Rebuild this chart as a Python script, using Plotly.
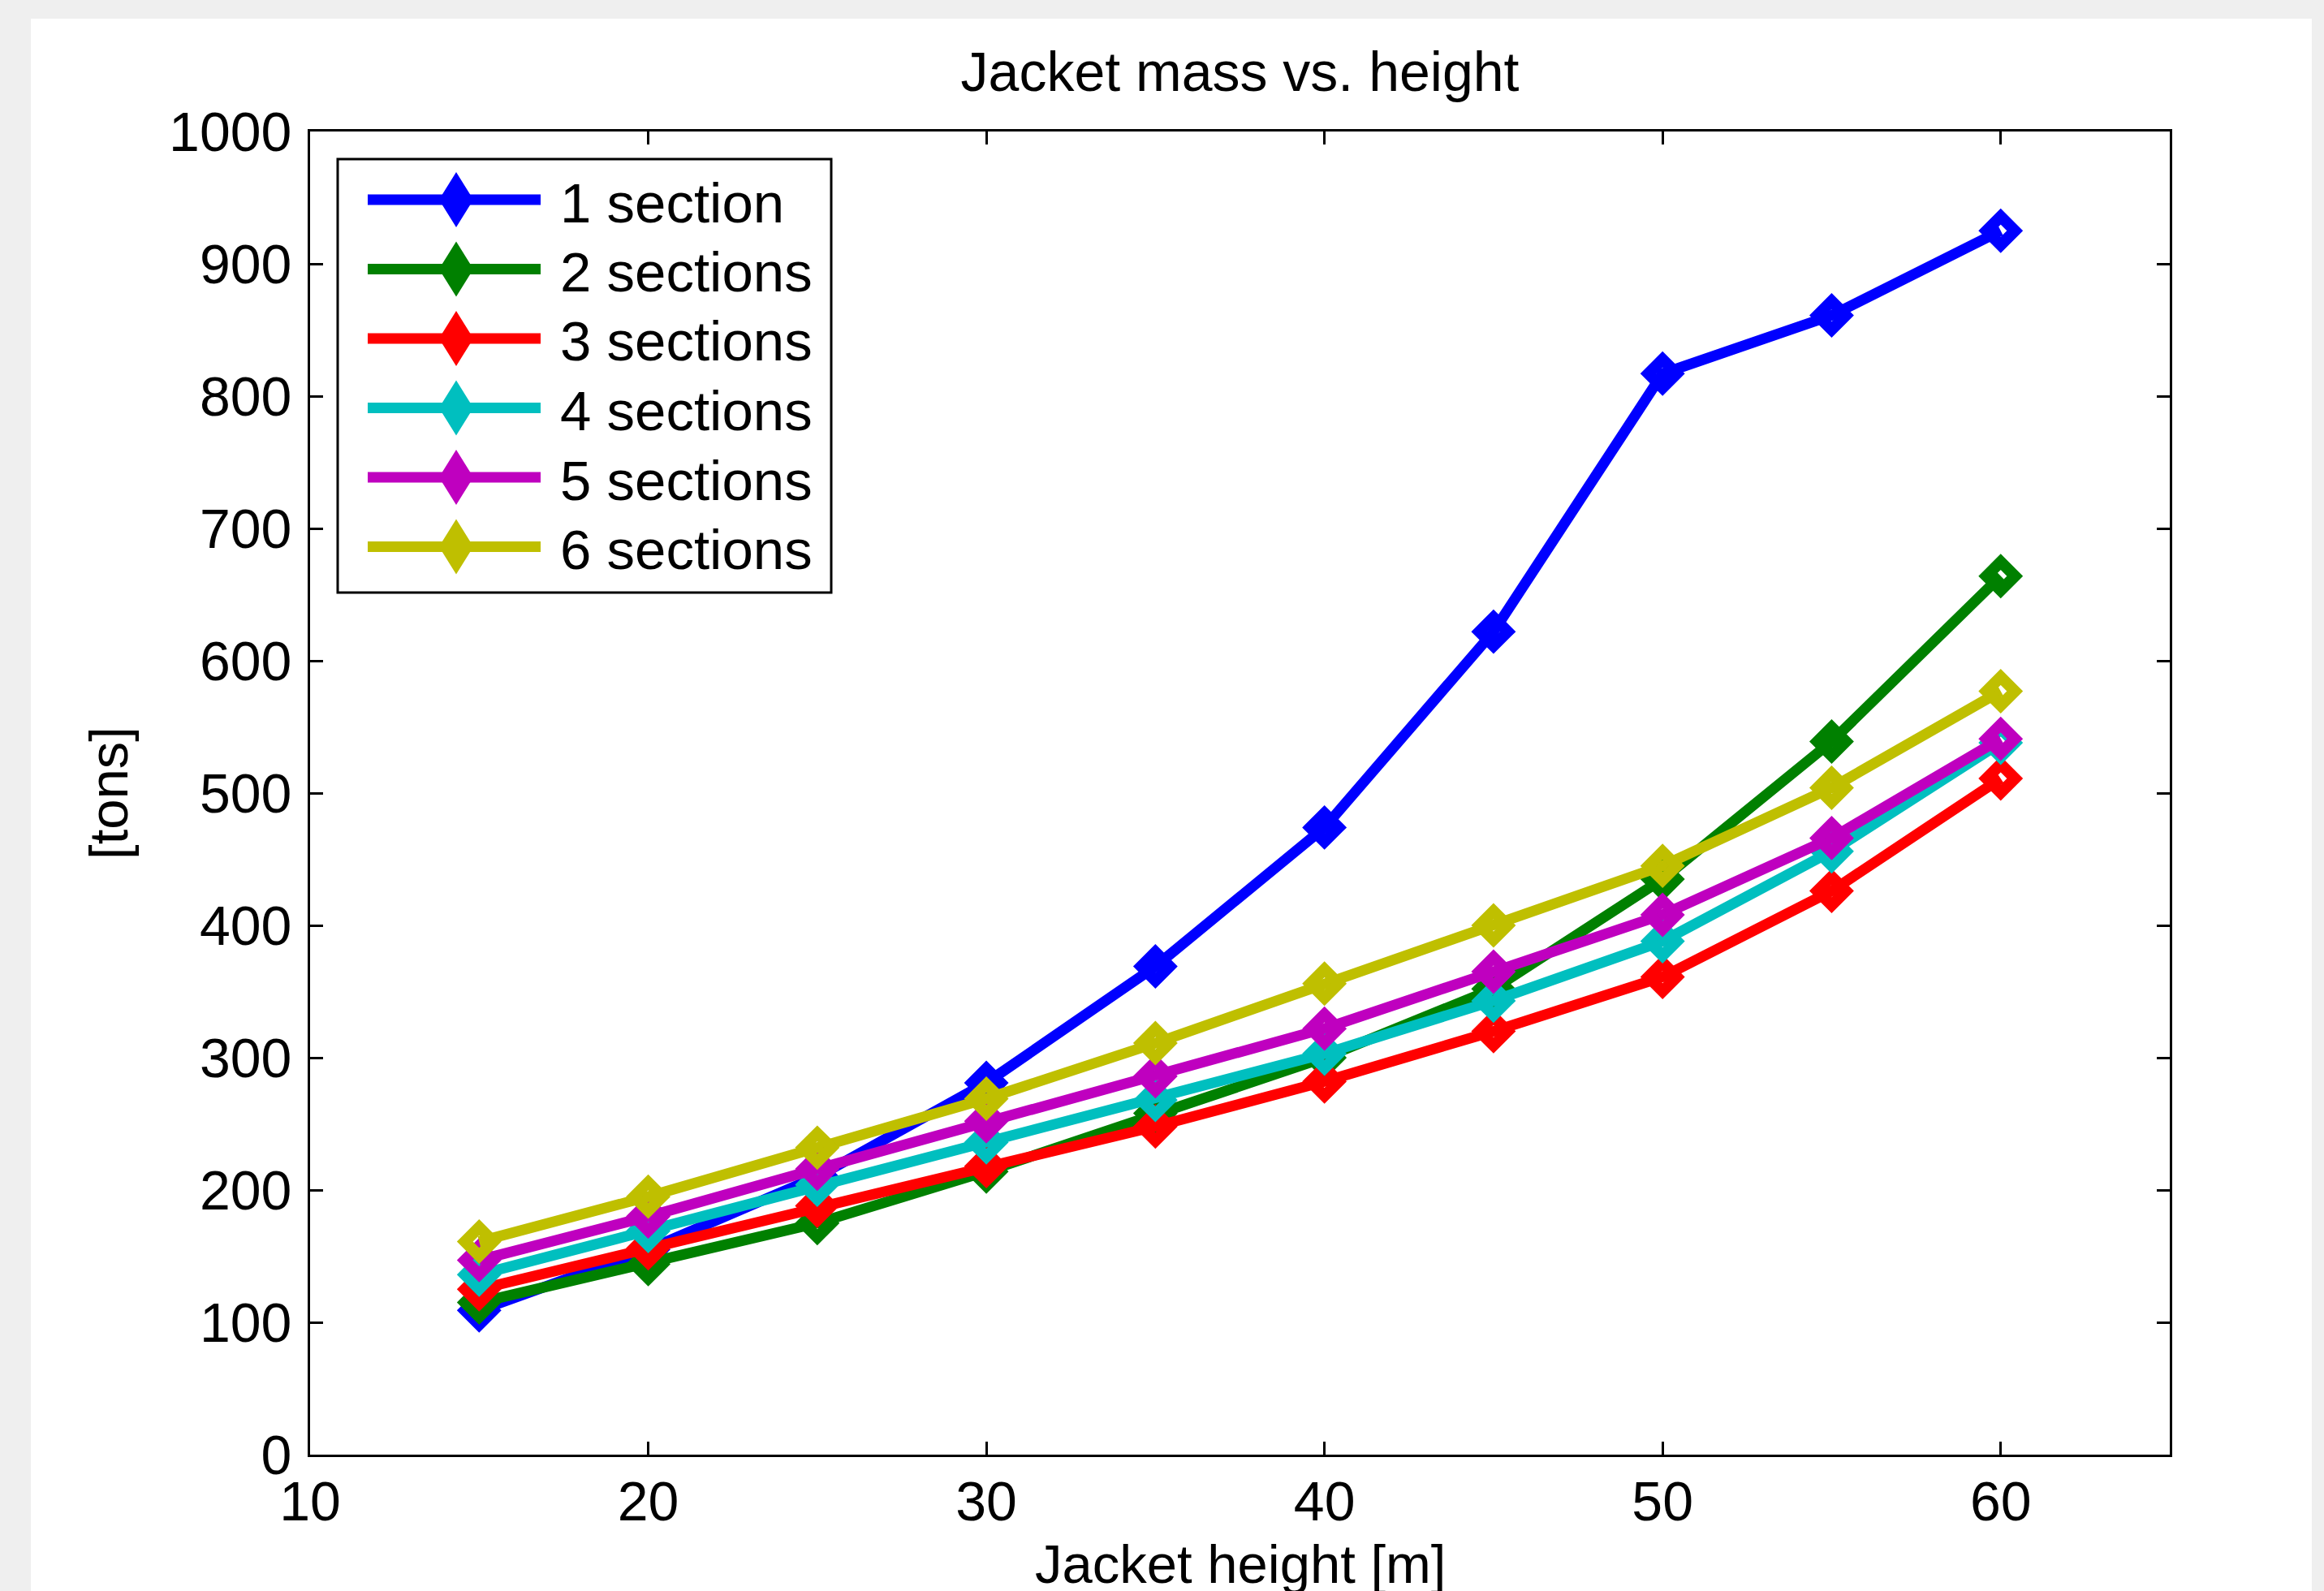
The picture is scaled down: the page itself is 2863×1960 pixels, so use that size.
import plotly.graph_objects as go

# ---------------- data ----------------
heights = [15, 20, 25, 30, 35, 40, 45, 50, 55, 60]
mass_1_section = [109, 155, 210, 281, 369, 474, 622, 817, 861, 925]
mass_2_sections = [115, 144, 175, 214, 258, 300, 352, 435, 539, 664]
mass_3_sections = [125, 156, 188, 218, 248, 282, 320, 361, 426, 511]
mass_4_sections = [136, 169, 204, 236, 268, 303, 343, 388, 456, 538]
mass_5_sections = [147, 180, 216, 252, 286, 322, 365, 408, 466, 541]
mass_6_sections = [161, 195, 232, 269, 311, 356, 400, 445, 504, 577]

series_names = ["1 section", "2 sections", "3 sections", "4 sections", "5 sections", "6 sections"]
series_values = [mass_1_section, mass_2_sections, mass_3_sections,
                 mass_4_sections, mass_5_sections, mass_6_sections]
series_colors = ["#0000ff", "#008000", "#ff0000", "#00bfbf", "#bf00bf", "#bfbf00"]

x_ticks = [10, 20, 30, 40, 50, 60]
y_ticks = [0, 100, 200, 300, 400, 500, 600, 700, 800, 900, 1000]

# ---------------- layout geometry (pixels) ----------------
FIG_W, FIG_H = 2863, 1960
L, R, T, B = 382, 2673, 162, 1792
PW, PH = R - L, B - T
FONT = "Liberation Sans, Arial, Helvetica, sans-serif"


def px(x):
    return (x - L) / PW


def py(y):
    return (B - y) / PH


fig = go.Figure()

for name, vals, col in zip(series_names, series_values, series_colors):
    fig.add_trace(go.Scatter(
        x=heights, y=vals, name=name, mode="lines+markers",
        line=dict(color=col, width=13),
        marker=dict(symbol="diamond-open", size=27, color=col,
                    line=dict(color=col, width=14)),
        showlegend=False,
    ))

shapes = []
annotations = []

# white figure panel on grey page
shapes.append(dict(type="rect", xref="paper", yref="paper", layer="below",
                   x0=px(38), x1=px(2848), y0=py(1965), y1=py(23),
                   fillcolor="white", line=dict(width=0)))

# custom legend (MATLAB style)
LX0, LX1, LY0, LY1 = 416, 1024, 196, 730
shapes.append(dict(type="rect", xref="paper", yref="paper", layer="above",
                   x0=px(LX0), x1=px(LX1), y0=py(LY1), y1=py(LY0),
                   fillcolor="white", line=dict(color="black", width=3)))
for i, (name, col) in enumerate(zip(series_names, series_colors)):
    yc = 246 + 85.5 * i
    shapes.append(dict(type="line", xref="paper", yref="paper", layer="above",
                       x0=px(453), x1=px(666), y0=py(yc), y1=py(yc),
                       line=dict(color=col, width=13)))
    cx, hw, hh = 562, 20, 32
    path = (f"M{px(cx - hw)},{py(yc)} L{px(cx)},{py(yc - hh)} "
            f"L{px(cx + hw)},{py(yc)} L{px(cx)},{py(yc + hh)} Z")
    shapes.append(dict(type="path", xref="paper", yref="paper", layer="above",
                       path=path, fillcolor=col, line=dict(color=col, width=2)))
    annotations.append(dict(xref="paper", yref="paper", x=px(688), y=py(yc + 4),
                            xanchor="left", yanchor="middle", showarrow=False,
                            text=name, font=dict(family=FONT, size=69, color="black")))

# x-axis title (placed as text so it can sit at the page edge like the original)
annotations.append(dict(xref="paper", yref="paper", x=0.5, y=py(1887),
                        xanchor="center", yanchor="top", showarrow=False,
                        text="Jacket height [m]",
                        font=dict(family=FONT, size=67, color="black")))

axis_common = dict(
    showline=True, linecolor="black", linewidth=3, mirror="ticks",
    ticks="inside", ticklen=16, tickwidth=2.5, tickcolor="black",
    showgrid=False, zeroline=False,
    tickfont=dict(family=FONT, size=68, color="black"),
)

fig.update_layout(
    width=FIG_W, height=FIG_H,
    margin=dict(l=L, r=FIG_W - R, t=T, b=FIG_H - B, autoexpand=False),
    paper_bgcolor="#efefef", plot_bgcolor="white",
    title=dict(text="Jacket mass vs. height", x=0.5, xref="paper", xanchor="center",
               y=1, yref="paper", yanchor="bottom", pad=dict(b=50),
               font=dict(family=FONT, size=68, color="black")),
    xaxis=dict(range=[10, 65], tickvals=x_ticks, ticktext=[str(v) for v in x_ticks],
               ticklabelstandoff=-4,
               **axis_common),
    yaxis=dict(range=[0, 1000], tickvals=y_ticks, ticktext=[str(v) for v in y_ticks],
               ticklabelstandoff=6,
               title=dict(text="[tons]", standoff=29,
                          font=dict(family=FONT, size=67, color="black")),
               **axis_common),
    shapes=shapes,
    annotations=annotations,
    showlegend=False,
)

fig.write_html("out.html", config={"displayModeBar": False},
               post_script="document.body.style.margin='0px';document.body.style.overflow='hidden';")
